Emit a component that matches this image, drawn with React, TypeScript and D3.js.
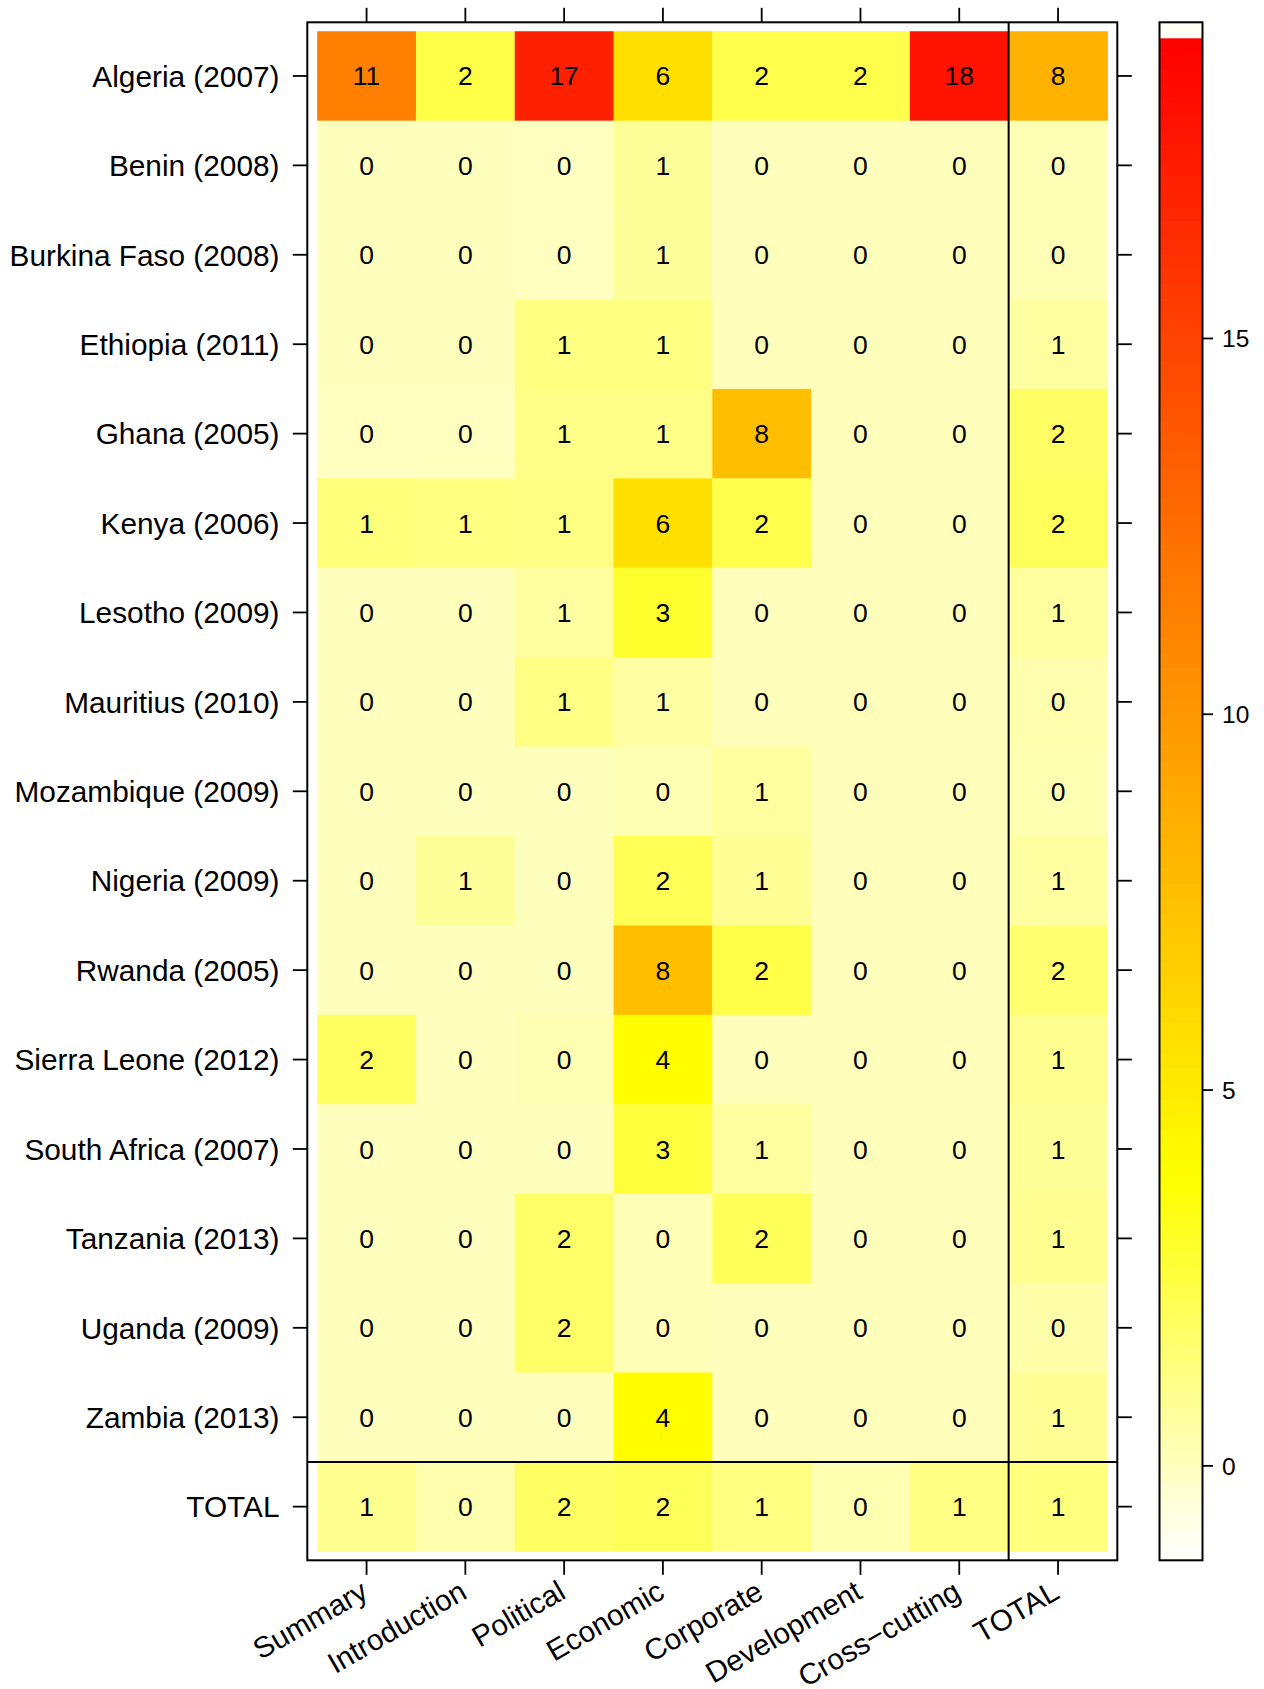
import React from 'react';
import * as d3 from 'd3';

const countries = [
  'Algeria (2007)', 'Benin (2008)', 'Burkina Faso (2008)', 'Ethiopia (2011)', 'Ghana (2005)',
  'Kenya (2006)', 'Lesotho (2009)', 'Mauritius (2010)', 'Mozambique (2009)', 'Nigeria (2009)',
  'Rwanda (2005)', 'Sierra Leone (2012)', 'South Africa (2007)', 'Tanzania (2013)', 'Uganda (2009)',
  'Zambia (2013)', 'TOTAL',
];
const sections = ['Summary', 'Introduction', 'Political', 'Economic', 'Corporate', 'Development', 'Cross\u2212cutting', 'TOTAL'];

const summary = [11.4, 0.05, 0.05, 0.05, 0.0, 1.4, 0.05, 0.05, 0.05, 0.05, 0.05, 1.9, 0.05, 0.05, 0.05, 0.05, 0.95];
const introduction = [2.4, 0.05, 0.05, 0.05, 0.0, 1.25, 0.05, 0.05, 0.05, 0.75, 0.05, 0.05, 0.05, 0.05, 0.05, 0.05, 0.35];
const political = [17.1, 0.0, 0.0, 1.25, 1.1, 1.2, 0.6, 1.15, 0.05, 0.05, 0.05, 0.25, 0.05, 1.75, 1.75, 0.05, 1.85];
const economic = [5.7, 0.75, 0.75, 1.25, 1.1, 5.7, 2.9, 0.55, 0.25, 2.1, 7.6, 3.9, 2.6, 0.15, 0.15, 3.95, 2.05];
const corporate = [2.3, 0.1, 0.1, 0.1, 7.6, 2.3, 0.1, 0.1, 0.65, 0.85, 2.4, 0.1, 0.65, 2.05, 0.1, 0.1, 1.25];
const development = [2.3, 0.1, 0.1, 0.1, 0.1, 0.1, 0.1, 0.1, 0.1, 0.1, 0.1, 0.1, 0.1, 0.1, 0.1, 0.1, 0.3];
const crossCutting = [17.95, 0.1, 0.1, 0.1, 0.1, 0.1, 0.1, 0.1, 0.1, 0.1, 0.1, 0.1, 0.1, 0.1, 0.1, 0.1, 1.2];
const total = [8.45, 0.2, 0.2, 0.6, 1.8, 2.0, 0.65, 0.35, 0.3, 0.6, 1.6, 0.95, 0.8, 0.9, 0.45, 0.85, 1.3];

const keyTicks = [0, 5, 10, 15];

const columns = [summary, introduction, political, economic, corporate, development, crossCutting, total];

const W = 1264;
const H = 1689;
const FONT = '"Liberation Sans", Arial, Helvetica, sans-serif';

const allVals = columns.flat();
const zMin = d3.min(allVals) as number;
const zMax = d3.max(allVals) as number;
const ext = 0.07 * (zMax - zMin);
const LO = zMin - ext;
const HI = zMax + ext;
const N_INT = 100;
const STEP = (HI - LO) / N_INT;
const HI_C = HI - STEP;

function heatRev(v: number): string {
  let t = (v - LO) / (HI_C - LO);
  t = Math.max(0, Math.min(1, t));
  if (t < 0.25) {
    const s = Math.max(0.02, t / 0.25);
    const b = Math.round(255 * (1 - s));
    return `rgb(255,255,${b})`;
  }
  const p = 1 - t;
  const h = (p / 0.75) * 60;
  return d3.hsl(h, 1, 0.5).formatHex();
}

export default function App() {
  const nCol = sections.length;
  const nRow = countries.length;
  const x = d3.scaleLinear().domain([-0.6, nCol - 0.4]).range([307.3, 1117.3]);
  const y = d3.scaleLinear().domain([-0.6, nRow - 0.4]).range([22.3, 1560.3]);
  const cw = x(0.5) - x(-0.5);
  const ch = y(0.5) - y(-0.5);
  const ky = d3.scaleLinear().domain([LO, HI]).range([1560.3, 22.3]);
  const kx0 = 1159.5;
  const kx1 = 1202.5;
  const [px0, px1] = x.range();
  const [py0, py1] = y.range();
  const tick = 14.5;

  const keySteps = d3.range(N_INT);

  return (
    <svg width={W} height={H} style={{ position: 'absolute', left: 0, top: 0, background: '#fff' }} fontFamily={FONT}>
      <rect x={0} y={0} width={W} height={H} fill="#fff" />
      {/* cells */}
      {columns.map((col, ci) =>
        col.map((v, ri) => (
          <rect key={`c${ci}-${ri}`} x={x(ci) - cw / 2} y={y(ri) - ch / 2} width={cw + 0.5} height={ch + 0.5} fill={heatRev(v)} />
        ))
      )}
      {columns.map((col, ci) =>
        col.map((v, ri) => (
          <text key={`t${ci}-${ri}`} x={x(ci)} y={y(ri)} dy="0.36em" textAnchor="middle" fontSize={26.5} fill="#000">
            {d3.format('.0f')(v)}
          </text>
        ))
      )}
      {/* separator lines */}
      <line x1={x(nCol - 1.5)} x2={x(nCol - 1.5)} y1={py0} y2={py1} stroke="#000" strokeWidth={2} />
      <line x1={px0} x2={px1} y1={y(nRow - 1.5)} y2={y(nRow - 1.5)} stroke="#000" strokeWidth={2} />
      {/* panel border */}
      <rect x={px0} y={py0} width={px1 - px0} height={py1 - py0} fill="none" stroke="#000" strokeWidth={2} />
      {/* ticks */}
      {sections.map((s, i) => (
        <g key={`xt${i}`}>
          <line x1={x(i)} x2={x(i)} y1={py0} y2={py0 - tick} stroke="#000" strokeWidth={1.8} />
          <line x1={x(i)} x2={x(i)} y1={py1} y2={py1 + tick} stroke="#000" strokeWidth={1.8} />
          <text
            transform={`translate(${x(i) - 2},${1588}) rotate(-30)`}
            textAnchor="end"
            dy="0.36em"
            fontSize={29.5}
            fill="#000"
          >
            {s}
          </text>
        </g>
      ))}
      {countries.map((c, i) => (
        <g key={`yt${i}`}>
          <line x1={px0} x2={px0 - tick} y1={y(i)} y2={y(i)} stroke="#000" strokeWidth={1.8} />
          <line x1={px1} x2={px1 + tick} y1={y(i)} y2={y(i)} stroke="#000" strokeWidth={1.8} />
          <text x={279.5} y={y(i)} dy="0.36em" textAnchor="end" fontSize={29.8} fill="#000">
            {c}
          </text>
        </g>
      ))}
      {/* color key */}
      {keySteps.map((i) => {
        const a = LO + i * STEP;
        const b = a + STEP;
        const fill = i === N_INT - 1 ? '#FFFFF4' : heatRev(a + STEP / 2);
        return <rect key={`k${i}`} x={kx0} y={ky(b)} width={kx1 - kx0} height={ky(a) - ky(b) + 0.6} fill={fill} />;
      })}
      <rect x={kx0} y={ky(HI)} width={kx1 - kx0} height={ky(LO) - ky(HI)} fill="none" stroke="#000" strokeWidth={2} />
      {keyTicks.map((t) => (
        <g key={`kt${t}`}>
          <line x1={kx1} x2={kx1 + 10.5} y1={ky(t)} y2={ky(t)} stroke="#000" strokeWidth={1.8} />
          <text x={1222} y={ky(t)} dy="0.36em" fontSize={24.5} fill="#000">
            {t}
          </text>
        </g>
      ))}
    </svg>
  );
}
